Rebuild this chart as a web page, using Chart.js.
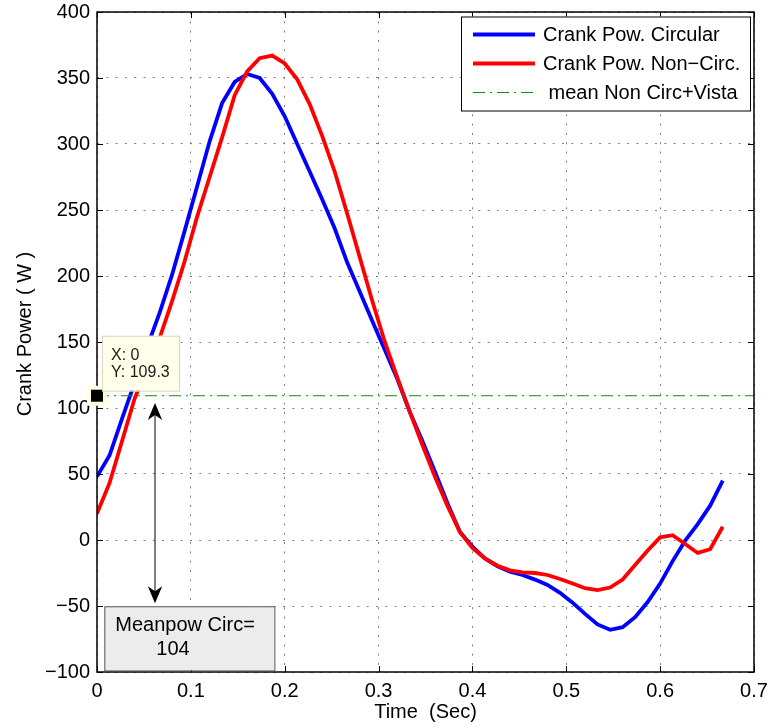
<!DOCTYPE html>
<html lang="en">
<head>
    <meta charset="UTF-8">
    <title>Crank Power</title>
    <script src="https://cdn.jsdelivr.net/npm/chart.js"></script>
    <style>
        body {
            margin: 0;
            background: #fff;
        }
    </style>
</head>
<body>
    <canvas id="power-chart" width="769" height="728"></canvas>

    <script>
        // time samples (s), one crank revolution
        const times = [0, 0.0133, 0.0267, 0.04, 0.0533, 0.0667, 0.08, 0.0933, 0.1067, 0.12,
            0.1333, 0.1467, 0.16, 0.1733, 0.1867, 0.2, 0.2133, 0.2267, 0.24, 0.2533,
            0.2667, 0.28, 0.2933, 0.3067, 0.32, 0.3333, 0.3467, 0.36, 0.3733, 0.3867,
            0.4, 0.4133, 0.4267, 0.44, 0.4533, 0.4667, 0.48, 0.4933, 0.5067, 0.52,
            0.5333, 0.5467, 0.56, 0.5733, 0.5867, 0.6, 0.6133, 0.6267, 0.64, 0.6533, 0.6667];

        const powCircular = [48, 64, 92, 119, 146, 172, 201, 234, 268, 302,
            331, 347, 353, 350, 338, 321, 300, 279, 258, 236,
            210, 188, 166, 144, 122, 97, 75, 52, 28, 6,
            -5, -14, -20, -24, -26.5, -30, -34, -40, -47.5, -56,
            -64, -68, -66, -58.5, -47, -33, -16, -0.5, 12, 26, 45];

        const powNonCirc = [20, 43, 75, 107, 130, 153, 181, 211, 245, 275,
            305, 337, 355, 365, 367, 361, 349, 330, 306, 279,
            247, 214, 181, 150, 123, 97, 72, 48, 26, 6,
            -6, -14, -19.5, -23, -24.5, -25, -26.5, -29.5, -33, -36.5,
            -38, -36, -30, -19, -8, 2, 3.6, -3, -9.8, -7, 10];

        const meanNonCircVista = 109.3;
        const meanPowCirc = 104;

        const xTicks = [0, 0.1, 0.2, 0.3, 0.4, 0.5, 0.6, 0.7];
        const yTicks = [-100, -50, 0, 50, 100, 150, 200, 250, 300, 350, 400];

        const seriesLabels = ['Crank Pow. Circular', 'Crank Pow. Non\u2212Circ.', ' mean Non Circ+Vista'];
        const xTitle = 'Time  (Sec)';
        const yTitle = 'Crank Power ( W )';

        const FONT = '"Liberation Sans", Arial, sans-serif';
        const GREEN = '#138a13';

        // axes box, inner ticks, data tip, arrow, text box and legend, matlab style
        const matlabFrame = {
            id: 'matlabFrame',
            afterDatasetsDraw(chart) {
                const ctx = chart.ctx;
                const a = chart.chartArea;
                const xs = chart.scales.x;
                const ys = chart.scales.y;
                ctx.save();

                // box
                ctx.strokeStyle = '#000';
                ctx.lineWidth = 1.5;
                ctx.strokeRect(a.left, a.top, a.right - a.left, a.bottom - a.top);

                // inner ticks
                ctx.lineWidth = 1;
                ctx.beginPath();
                xTicks.forEach(v => {
                    const px = Math.round(xs.getPixelForValue(v)) + 0.5;
                    ctx.moveTo(px, a.bottom); ctx.lineTo(px, a.bottom - 6);
                    ctx.moveTo(px, a.top); ctx.lineTo(px, a.top + 6);
                });
                yTicks.forEach(v => {
                    const py = Math.round(ys.getPixelForValue(v)) + 0.5;
                    ctx.moveTo(a.left, py); ctx.lineTo(a.left + 6, py);
                    ctx.moveTo(a.right, py); ctx.lineTo(a.right - 6, py);
                });
                ctx.stroke();

                // double arrow towards the mean line
                const ax = xs.getPixelForValue(0.0618);
                const aTop = ys.getPixelForValue(103.7);
                const aBot = ys.getPixelForValue(-48);
                ctx.strokeStyle = '#000';
                ctx.lineWidth = 1;
                ctx.beginPath();
                ctx.moveTo(ax, aTop + 8);
                ctx.lineTo(ax, aBot - 8);
                ctx.stroke();
                const head = (tipY, dir) => {
                    ctx.beginPath();
                    ctx.moveTo(ax, tipY);
                    ctx.lineTo(ax - 7.2, tipY + dir * 17);
                    ctx.lineTo(ax, tipY + dir * 12);
                    ctx.lineTo(ax + 7.2, tipY + dir * 17);
                    ctx.closePath();
                    ctx.fillStyle = '#000';
                    ctx.fill();
                };
                head(aTop, 1);
                head(aBot, -1);

                // mean power text box
                const bx0 = xs.getPixelForValue(0.0078);
                const bx1 = xs.getPixelForValue(0.189);
                const by0 = ys.getPixelForValue(-50.2);
                const by1 = ys.getPixelForValue(-98.8);
                ctx.fillStyle = '#ececec';
                ctx.fillRect(bx0, by0, bx1 - bx0, by1 - by0);
                ctx.strokeStyle = '#555';
                ctx.strokeRect(bx0 + 0.5, by0 + 0.5, bx1 - bx0, by1 - by0);
                ctx.fillStyle = '#000';
                ctx.font = '20px ' + FONT;
                ctx.textAlign = 'left';
                ctx.textBaseline = 'middle';
                ctx.fillText('Meanpow Circ=', bx0 + 11, by0 + 19);
                ctx.fillText(String(meanPowCirc), bx0 + 52, by0 + 43);

                // data tip on the mean line
                const mx = xs.getPixelForValue(0);
                const my = ys.getPixelForValue(meanNonCircVista);
                ctx.fillStyle = '#ffffe0';
                ctx.fillRect(mx - 10, my - 10, 20, 20);
                ctx.fillStyle = '#000';
                ctx.fillRect(mx - 6, my - 6, 12, 12);
                const tx = mx + 5, ty = my - 60;
                ctx.fillStyle = '#ffffea';
                ctx.fillRect(tx, ty, 77, 55);
                ctx.strokeStyle = '#d6d6c2';
                ctx.strokeRect(tx + 0.5, ty + 0.5, 77, 55);
                ctx.fillStyle = '#1a1a1a';
                ctx.font = '16px ' + FONT;
                ctx.fillText('X: ' + xTicks[0], tx + 9, ty + 20);
                ctx.fillText('Y: ' + meanNonCircVista.toFixed(1), tx + 9, ty + 37);

                // legend
                const lw = 289, lh = 94;
                const lx = a.right - 4 - lw, ly = a.top + 4.5;
                ctx.fillStyle = '#fff';
                ctx.fillRect(lx, ly, lw, lh);
                ctx.strokeStyle = '#000';
                ctx.lineWidth = 1;
                ctx.strokeRect(lx + 0.5, ly + 0.5, lw, lh);
                ctx.font = '20px ' + FONT;
                chart.data.datasets.forEach((ds, i) => {
                    const rowY = ly + 18 + i * 29;
                    ctx.save();
                    ctx.strokeStyle = ds.borderColor;
                    ctx.lineWidth = ds.borderWidth;
                    ctx.setLineDash(ds.borderDash || []);
                    ctx.beginPath();
                    ctx.moveTo(lx + 12, rowY);
                    ctx.lineTo(lx + 74, rowY);
                    ctx.stroke();
                    ctx.restore();
                    ctx.fillStyle = '#000';
                    ctx.fillText(ds.label, lx + 82, rowY + 1);
                });

                // axis titles
                ctx.fillStyle = '#000';
                ctx.textAlign = 'center';
                ctx.fillText(xTitle, (a.left + a.right) / 2, 712);
                ctx.translate(25, 334);
                ctx.rotate(-Math.PI / 2);
                ctx.fillText(yTitle, 0, 0);

                ctx.restore();
            }
        };

        const ctx = document.getElementById('power-chart').getContext('2d');
        new Chart(ctx, {
            type: 'line',
            data: {
                datasets: [
                    {
                        label: seriesLabels[0],
                        data: times.map((t, i) => ({ x: t, y: powCircular[i] })),
                        borderColor: '#0000ff',
                        borderWidth: 3.8,
                        pointRadius: 0,
                        order: 3,
                    },
                    {
                        label: seriesLabels[1],
                        data: times.map((t, i) => ({ x: t, y: powNonCirc[i] })),
                        borderColor: '#ff0000',
                        borderWidth: 3.8,
                        pointRadius: 0,
                        order: 2,
                    },
                    {
                        label: seriesLabels[2],
                        data: [
                            { x: xTicks[0], y: meanNonCircVista },
                            { x: xTicks[xTicks.length - 1], y: meanNonCircVista },
                        ],
                        borderColor: GREEN,
                        borderWidth: 1,
                        borderDash: [12, 5, 2, 5],
                        pointRadius: 0,
                        order: 1,
                    },
                ],
            },
            options: {
                responsive: false,
                animation: false,
                layout: {
                    padding: { top: 12, right: 15, left: 0, bottom: 0 },
                },
                plugins: {
                    legend: { display: false },
                    tooltip: { enabled: false },
                },
                scales: {
                    x: {
                        type: 'linear',
                        min: xTicks[0],
                        max: xTicks[xTicks.length - 1],
                        afterBuildTicks: s => { s.ticks = xTicks.map(v => ({ value: v })); },
                        afterFit: s => {
                            s.height = 56;
                            s.paddingLeft = 0;
                            s.paddingRight = 0;
                        },
                        border: { display: false, dash: [2, 7.3] },
                        grid: { color: '#808080', drawTicks: false },
                        ticks: {
                            padding: 7,
                            color: '#000',
                            font: { family: FONT, size: 20 },
                            maxRotation: 0,
                            callback: v => v === 0 ? '0' : v.toFixed(1),
                        },
                    },
                    y: {
                        min: yTicks[0],
                        max: yTicks[yTicks.length - 1],
                        afterBuildTicks: s => { s.ticks = yTicks.map(v => ({ value: v })); },
                        afterFit: s => {
                            s.width = 97;
                            s.paddingTop = 0;
                            s.paddingBottom = 0;
                        },
                        border: { display: false, dash: [2, 7.3] },
                        grid: { color: '#808080', drawTicks: false },
                        ticks: {
                            padding: 7,
                            color: '#000',
                            font: { family: FONT, size: 20 },
                            callback: v => String(v).replace('-', '\u2212'),
                        },
                    },
                },
            },
            plugins: [matlabFrame],
        });
    </script>
</body>
</html>
